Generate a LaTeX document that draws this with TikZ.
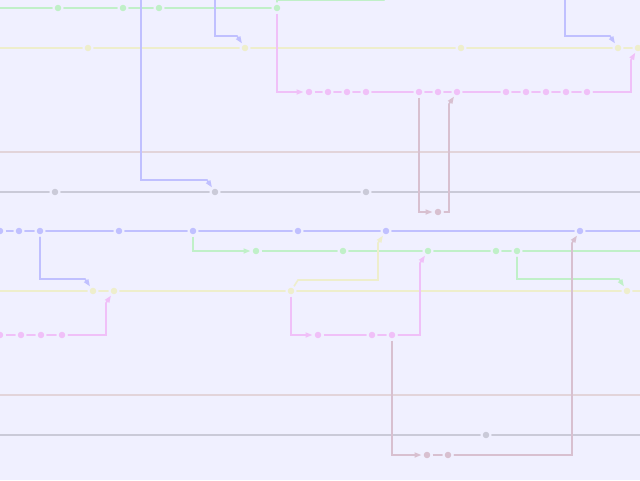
\documentclass[tikz,border=0pt]{standalone}
\usetikzlibrary{arrows.meta}
\pgfdeclarelayer{back}
\pgfdeclarelayer{bg}
\pgfsetlayers{back,bg,main}
\definecolor{bgc}{RGB}{240,240,255}
\definecolor{grn}{RGB}{192,240,200}
\definecolor{yel}{RGB}{238,238,204}
\definecolor{pnk}{RGB}{240,192,248}
\definecolor{brn}{RGB}{226,212,218}
\definecolor{gry}{RGB}{202,202,216}
\definecolor{blu}{RGB}{192,192,255}
\definecolor{mau}{RGB}{216,192,208}
\tikzset{
    commit/.style={circle, inner sep=0mm, draw=bgc, line width=2pt, minimum size=9pt}
}
\tikzset{lane/.style={line width=1.6pt}}
\tikzset{arr/.style={lane, -{Triangle[length=7pt,width=5pt]}}}
\begin{document}
\begin{tikzpicture}[x=1pt, y=-1pt]
        \useasboundingbox (0,0) rectangle (640,480);
        \clip (0,0) rectangle (640,480);
        \begin{pgfonlayer}{back}
                \fill [bgc] (0,0) rectangle (640,480);
        \end{pgfonlayer}
        % lane ends
        \coordinate (gL) at (0,8);
        \coordinate (yL) at (0,48);      \coordinate (yR) at (640,48);
        \coordinate (rL) at (0,152);     \coordinate (rR) at (640,152);
        \coordinate (aL) at (0,192);     \coordinate (aR) at (640,192);
        \coordinate (bR) at (640,231);
        \coordinate (hR) at (640,251);
        \coordinate (wL) at (0,291);     \coordinate (wR) at (640,291);
        \coordinate (sL) at (0,395);     \coordinate (sR) at (640,395);
        \coordinate (cL) at (0,435);     \coordinate (cR) at (640,435);
        % branches coming in from the top
        \coordinate (t1) at (141,-4);
        \coordinate (t2) at (215,-4);
        \coordinate (t3) at (565,-4);
        \coordinate (t4) at (392,-14);
        % green
        \node (g1) [commit, fill=grn] at (58,8) {};
        \node (g2) [commit, fill=grn] at (123,8) {};
        \node (g3) [commit, fill=grn] at (159,8) {};
        \node (g4) [commit, fill=grn] at (277,8) {};
        % yellow
        \node (y1) [commit, fill=yel] at (88,48) {};
        \node (y2) [commit, fill=yel] at (245,48) {};
        \node (y3) [commit, fill=yel] at (461,48) {};
        \node (y4) [commit, fill=yel] at (618,48) {};
        \node (y5) [commit, fill=yel] at (638,48) {};
        % pink
        \node (p1) [commit, fill=pnk] at (309,92) {};
        \node (p2) [commit, fill=pnk] at (328,92) {};
        \node (p3) [commit, fill=pnk] at (347,92) {};
        \node (p4) [commit, fill=pnk] at (366,92) {};
        \node (p5) [commit, fill=pnk] at (419,92) {};
        \node (p6) [commit, fill=pnk] at (438,92) {};
        \node (p7) [commit, fill=pnk] at (457,92) {};
        \node (p8) [commit, fill=pnk] at (506,92) {};
        \node (p9) [commit, fill=pnk] at (526,92) {};
        \node (p10) [commit, fill=pnk] at (546,92) {};
        \node (p11) [commit, fill=pnk] at (566,92) {};
        \node (p12) [commit, fill=pnk] at (587,92) {};
        % gray
        \node (a1) [commit, fill=gry] at (55,192) {};
        \node (a2) [commit, fill=gry] at (215,192) {};
        \node (a3) [commit, fill=gry] at (366,192) {};
        \node (m1) [commit, fill=mau] at (438,212) {};
        % blue
        \node (b1) [commit, fill=blu] at (0,231) {};
        \node (b2) [commit, fill=blu] at (19,231) {};
        \node (b3) [commit, fill=blu] at (40,231) {};
        \node (b4) [commit, fill=blu] at (119,231) {};
        \node (b5) [commit, fill=blu] at (193,231) {};
        \node (b6) [commit, fill=blu] at (298,231) {};
        \node (b7) [commit, fill=blu] at (386,231) {};
        \node (b8) [commit, fill=blu] at (580,231) {};
        % green 2
        \node (h1) [commit, fill=grn] at (256,251) {};
        \node (h2) [commit, fill=grn] at (343,251) {};
        \node (h3) [commit, fill=grn] at (428,251) {};
        \node (h4) [commit, fill=grn] at (496,251) {};
        \node (h5) [commit, fill=grn] at (517,251) {};
        % yellow 2
        \node (w1) [commit, fill=yel] at (93,291) {};
        \node (w2) [commit, fill=yel] at (114,291) {};
        \node (w3) [commit, fill=yel] at (291,291) {};
        \node (w4) [commit, fill=yel] at (627,291) {};
        % pink 2
        \node (q1) [commit, fill=pnk] at (0,335) {};
        \node (q2) [commit, fill=pnk] at (21,335) {};
        \node (q3) [commit, fill=pnk] at (41,335) {};
        \node (q4) [commit, fill=pnk] at (62,335) {};
        \node (q5) [commit, fill=pnk] at (318,335) {};
        \node (q6) [commit, fill=pnk] at (372,335) {};
        \node (q7) [commit, fill=pnk] at (392,335) {};
        % gray 2, mauve 2
        \node (c1) [commit, fill=gry] at (486,435) {};
        \node (n1) [commit, fill=mau] at (427,455) {};
        \node (n2) [commit, fill=mau] at (448,455) {};
        \begin{pgfonlayer}{bg}
                % lanes
                \draw [lane, grn] (gL) -- (g4);
                \draw [lane, yel] (yL) -- (yR);
                \draw [lane, pnk] (p1) -- (p12);
                \draw [lane, brn] (rL) -- (rR);
                \draw [lane, gry] (aL) -- (aR);
                \draw [lane, blu] (b1) -- (bR);
                \draw [lane, grn] (h1) -- (hR);
                \draw [lane, yel] (wL) -- (wR);
                \draw [lane, pnk] (q1) -- (q4);
                \draw [lane, pnk] (q5) -- (q7);
                \draw [lane, brn] (sL) -- (sR);
                \draw [lane, gry] (cL) -- (cR);
                \draw [lane, mau] (n1) -- (n2);
                % branches and merges
                \draw [blu, arr] (t1) |- (207,180) -- (a2);
                \draw [blu, arr] (t2) |- (237,36) -- (y2);
                \draw [blu, arr] (t3) |- (610,36) -- (y4);
                \draw [grn, lane] (g4) |- (384,0) -- (t4);
                \draw [pnk, arr] (g4) |- (p1);
                \draw [pnk, arr] (p12) -| (631,60) -- (y5);
                \draw [mau, arr] (p5) |- (m1);
                \draw [mau, arr] (m1) -| (449,104) -- (p7);
                \draw [blu, arr] (b3) |- (85,279) -- (w1);
                \draw [grn, arr] (b5) |- (h1);
                \draw [yel, arr] (w3) -- (298,280) -| (378,243) -- (b7);
                \draw [pnk, arr] (w3) |- (q5);
                \draw [pnk, arr] (q4) -| (106,303) -- (w2);
                \draw [pnk, arr] (q7) -| (420,263) -- (h3);
                \draw [grn, arr] (h5) |- (619,279) -- (w4);
                \draw [mau, arr] (q7) |- (n1);
                \draw [mau, arr] (n2) -| (572,243) -- (b8);
        \end{pgfonlayer}
\end{tikzpicture}
\end{document}
